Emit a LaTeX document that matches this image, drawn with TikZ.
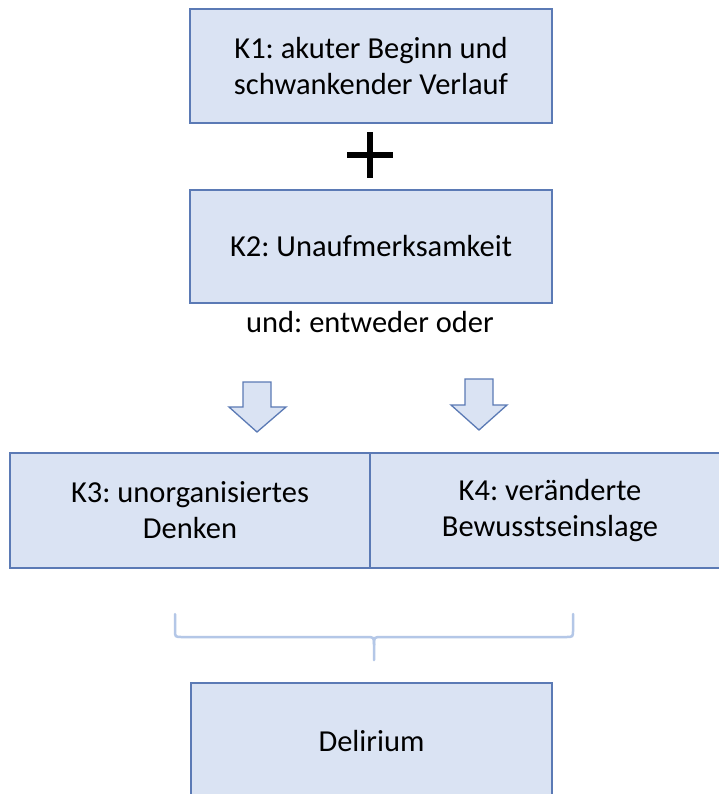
\documentclass[tikz,border=0pt]{standalone}
\usepackage{fontspec}
\setmainfont{Carlito}
\definecolor{boxfill}{HTML}{DAE3F3}
\definecolor{boxline}{HTML}{5B7AB5}
\definecolor{bracecol}{HTML}{B4C7E7}
\tikzset{
  kbox/.style={draw=boxline, fill=boxfill, line width=1.3pt, rectangle, align=center,
    font=\fontsize{30.5}{36}\selectfont\frenchspacing, text=black, inner sep=0pt},
  bigarrow/.style={draw=boxline, fill=boxfill, line width=1.3pt, line join=miter},
  bracepath/.style={draw=bracecol, line width=2.5pt, line cap=round},
  lbl/.style={font=\fontsize{30.5}{36}\selectfont\frenchspacing, text=black, inner sep=0pt}
}
\begin{document}
\begin{tikzpicture}[x=1pt,y=-1pt]
\clip (0,0) rectangle (719,794);
\fill[white] (0,0) rectangle (719,794);

\node[kbox, minimum width=362pt, minimum height=114pt] (k1) at (371,66) {K1: akuter Beginn und\\schwankender Verlauf};
\node[kbox, minimum width=362pt, minimum height=113pt] (k2) at (371,246.5) {K2: Unaufmerksamkeit};

% plus sign
\coordinate (pc) at (370,155);
\draw[line width=6pt, black] ([xshift=-23pt]pc) -- ([xshift=23pt]pc);
\draw[line width=6pt, black] ([yshift=-23pt]pc) -- ([yshift=23pt]pc);

\node[lbl] (und) at (370,322) {und: entweder oder};

% block arrows
\draw[bigarrow] (243,382) -- (271,382) -- (271,407) -- (286,407) -- (257,432) -- (229,407) -- (243,407) -- cycle;
\draw[bigarrow] (465,379) -- (493,379) -- (493,405) -- (507,405) -- (479,430) -- (451,405) -- (465,405) -- cycle;

\node[kbox, minimum width=360pt, minimum height=115pt] (k3) at (190,510.5) {K3: unorganisiertes\\Denken};
\node[kbox, minimum width=360pt, minimum height=115pt] (k4) at (550,510.5) {K4: veränderte\\Bewusstseinslage};

% brace
\draw[bracepath] (175,614) -- (175,630) .. controls (175,637) .. (182,637) -- (366,637) .. controls (374,637) .. (374,645) -- (374,660);
\draw[bracepath] (573,614) -- (573,630) .. controls (573,637) .. (566,637) -- (382,637) .. controls (374,637) .. (374,645);

\node[kbox, minimum width=361pt, minimum height=116pt] (del) at (371.5,741) {Delirium};
\end{tikzpicture}
\end{document}
